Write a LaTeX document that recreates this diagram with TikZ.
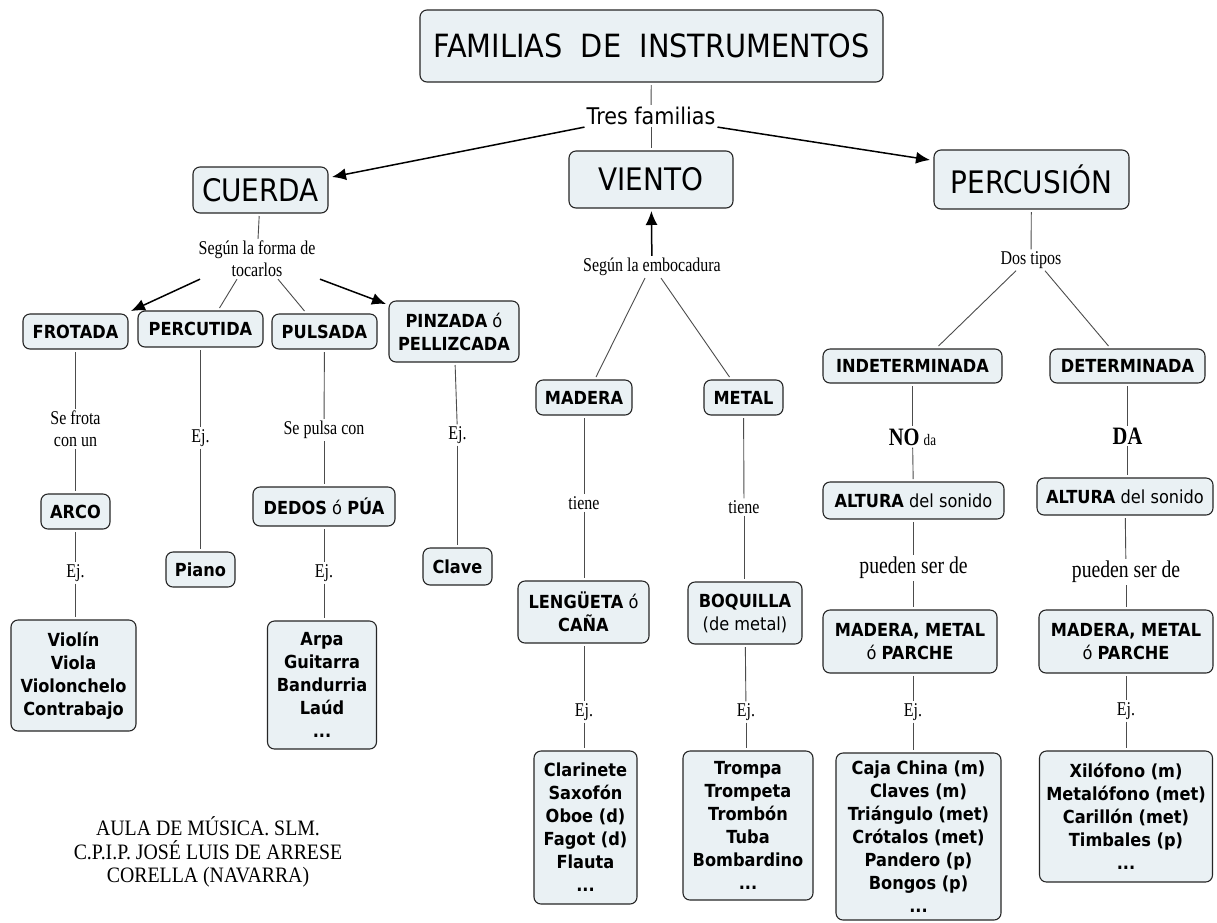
\documentclass[tikz,border=0pt]{standalone}
\usepackage{fontspec}
\usetikzlibrary{arrows.meta,calc}
\newfontfamily\nodefont{DejaVu Sans}[FakeStretch=0.9]
\newfontfamily\lblfont{Liberation Serif}[FakeStretch=0.82]
\newfontfamily\footfont{Liberation Serif}[FakeStretch=0.9]
\definecolor{boxfill}{HTML}{EAF1F4}
\tikzset{
  box/.style={draw=black!85, line width=1.1pt, rounded corners=7pt, fill=boxfill,
    inner sep=0pt, outer sep=3pt, align=center,
    font=\nodefont\fontsize{18}{23}\selectfont},
  bigbox/.style={box, font=\nodefont\fontsize{31}{36}\selectfont},
  lbl/.style={inner sep=2pt, align=center, font=\lblfont\fontsize{19.5}{22}\selectfont},
  conn/.style={draw=black!70, line width=0.9pt},
  arr/.style={draw=black, line width=1.5pt, -{Latex[length=14pt,width=12pt]}}
}
\begin{document}
\begin{tikzpicture}[x=1pt,y=-1pt]
\useasboundingbox[fill=white] (0,0) rectangle (1217,922);

% top level
\node[box, minimum width=463, minimum height=72, font=\nodefont\fontsize{32}{36}\selectfont] (title) at (651.5,46) {FAMILIAS\ \ DE\ \ INSTRUMENTOS};
\node[inner sep=2pt, font=\nodefont\fontsize{23}{26}\selectfont] (tres) at (651,116) {Tres familias};
\node[bigbox, minimum width=135, minimum height=46] (cuerda) at (260.5,190) {CUERDA};
\node[bigbox, minimum width=164, minimum height=57] (viento) at (651,179.5) {VIENTO};
\node[bigbox, minimum width=195, minimum height=59] (perc) at (1031.5,179.5) {PERCUSIÓN};

% CUERDA branch
\node[lbl] (seg) at (257,259) {Según la forma de\\tocarlos};
\node[box, minimum width=105, minimum height=35] (frotada) at (75.5,331.5) {\bfseries FROTADA};
\node[box, minimum width=125, minimum height=36] (percutida) at (200.5,329) {\bfseries PERCUTIDA};
\node[box, minimum width=105, minimum height=35] (pulsada) at (324.5,331.5) {\bfseries PULSADA};
\node[box, minimum width=130, minimum height=61] (pinzada) at (454,331.5) {\textbf{PINZADA} ó\\\textbf{PELLIZCADA}};

\node[lbl] (frotalbl) at (75.5,429) {Se frota\\con un};
\node[box, minimum width=69, minimum height=35] (arco) at (75.5,511.5) {\bfseries ARCO};
\node[lbl] (ej1) at (75.5,573) {Ej.};
\node[box, minimum width=125, minimum height=111] (violin) at (73.5,675.5) {\bfseries Violín\\\bfseries Viola\\\bfseries Violonchelo\\\bfseries Contrabajo};

\node[lbl] (ej2) at (200.5,438) {Ej.};
\node[box, minimum width=69, minimum height=35] (piano) at (200.5,569.5) {\bfseries Piano};

\node[lbl] (pulsalbl) at (324,430) {Se pulsa con};
\node[box, minimum width=142, minimum height=39] (dedos) at (324,506.5) {\textbf{DEDOS} ó \textbf{PÚA}};
\node[lbl] (ej3) at (324,573) {Ej.};
\node[box, minimum width=109, minimum height=128] (arpa) at (322,685) {\bfseries Arpa\\\bfseries Guitarra\\\bfseries Bandurria\\\bfseries Laúd\\\bfseries ...};

\node[lbl] (ej4) at (457.5,435) {Ej.};
\node[box, minimum width=69, minimum height=37] (clave) at (457.5,566.5) {\bfseries Clave};

% VIENTO branch
\node[lbl] (emb) at (652,267) {Según la embocadura};
\node[box, minimum width=96, minimum height=35] (madera) at (584,397.5) {\bfseries MADERA};
\node[box, minimum width=79, minimum height=35] (metal) at (743.5,397.5) {\bfseries METAL};
\node[lbl] (tiene1) at (584,503) {tiene};
\node[lbl] (tiene2) at (744,507) {tiene};
\node[box, minimum width=131, minimum height=62] (lengueta) at (583.5,612) {\textbf{LENGÜETA} ó\\\textbf{CAÑA}};
\node[box, minimum width=114, minimum height=62] (boquilla) at (745,613) {\textbf{BOQUILLA}\\(de metal)};
\node[lbl] (ej5) at (584,712) {Ej.};
\node[lbl] (ej6) at (746,712) {Ej.};
\node[box, minimum width=103, minimum height=153] (clarinete) at (585.5,827.5) {\bfseries Clarinete\\\bfseries Saxofón\\\bfseries Oboe (d)\\\bfseries Fagot (d)\\\bfseries Flauta\\\bfseries ...};
\node[box, minimum width=130, minimum height=149] (trompa) at (748,825.5) {\bfseries Trompa\\\bfseries Trompeta\\\bfseries Trombón\\\bfseries Tuba\\\bfseries Bombardino\\\bfseries ...};

% PERCUSION branch
\node[lbl] (dos) at (1031,260) {Dos tipos};
\node[box, minimum width=179, minimum height=34] (indet) at (912.5,366) {\bfseries INDETERMINADA};
\node[box, minimum width=155, minimum height=34] (det) at (1127.5,366) {\bfseries DETERMINADA};
\node[lbl] (noda) at (912.5,437) {{\bfseries\fontsize{25}{28}\selectfont NO} {\fontsize{16}{18}\selectfont da}};
\node[lbl, font=\lblfont\bfseries\fontsize{25}{28}\selectfont] (da) at (1127.5,436) {DA};
\node[box, minimum width=181, minimum height=37] (alt1) at (913.5,500.5) {\textbf{ALTURA} del sonido};
\node[box, minimum width=176, minimum height=37] (alt2) at (1125,496.5) {\textbf{ALTURA} del sonido};
\node[lbl, font=\lblfont\fontsize{24}{27}\selectfont] (pueden1) at (913.5,568) {pueden ser de};
\node[lbl, font=\lblfont\fontsize{24}{27}\selectfont] (pueden2) at (1126,572) {pueden ser de};
\node[box, minimum width=174, minimum height=63] (mmp1) at (910,641.5) {\bfseries MADERA, METAL\\ó \textbf{PARCHE}};
\node[box, minimum width=174, minimum height=63] (mmp2) at (1126,641.5) {\bfseries MADERA, METAL\\ó \textbf{PARCHE}};
\node[lbl] (ej7) at (913,712) {Ej.};
\node[lbl] (ej8) at (1126,711) {Ej.};
\node[box, minimum width=165, minimum height=167] (caja) at (918.5,836.5) {\bfseries Caja China (m)\\\bfseries Claves (m)\\\bfseries Triángulo (met)\\\bfseries Crótalos (met)\\\bfseries Pandero (p)\\\bfseries Bongos (p)\\\bfseries ...};
\node[box, minimum width=173, minimum height=131] (xilo) at (1126,816.5) {\bfseries Xilófono (m)\\\bfseries Metalófono (met)\\\bfseries Carillón (met)\\\bfseries Timbales (p)\\\bfseries ...};

% footer
\node[align=center, inner sep=0pt, font=\footfont\fontsize{22}{23.5}\selectfont] (footer) at (208,852) {AULA\ DE\ MÚSICA. SLM.\\C.P.I.P. JOSÉ\ LUIS\ DE\ ARRESE\\CORELLA (NAVARRA)};

% connectors top
\draw[conn] (title) -- (tres);
\draw[conn] (tres) -- (viento);
\draw[arr] (tres.south west) -- ($(cuerda.north east)+(1,13)$);
\draw[arr] (tres.south east) -- ($(perc.north west)+(-1,13)$);

% cuerda
\draw[conn] (cuerda) -- (seg);
\draw[arr] ($(seg.south)+(-57,0)$) -- (frotada.north east);
\draw[conn] ($(seg.south)+(-20,0)$) -- ($(percutida.north)+(19,0)$);
\draw[conn] ($(seg.south)+(21,0)$) -- ($(pulsada.north)+(-20,0)$);
\draw[arr] ($(seg.south)+(63,0)$) -- ($(pinzada.north west)+(0,6)$);
\draw[conn] (frotada) -- (frotalbl);
\draw[conn] (frotalbl) -- (arco);
\draw[conn] (arco) -- (ej1);
\draw[conn] (ej1) -- (violin.north -| ej1);
\draw[conn] (percutida) -- (ej2);
\draw[conn] (ej2) -- (piano);
\draw[conn] (pulsada) -- (pulsalbl);
\draw[conn] (pulsalbl) -- (dedos);
\draw[conn] (dedos) -- (ej3);
\draw[conn] (ej3) -- (arpa.north -| ej3);
\draw[conn] (pinzada) -- (ej4);
\draw[conn] (ej4) -- (clave);

% viento
\draw[arr] (emb) -- (viento);
\draw[conn] ($(emb.south)+(-7,0)$) -- ($(madera.north)+(12,0)$);
\draw[conn] ($(emb.south)+(9,0)$) -- ($(metal.north)+(-14,0)$);
\draw[conn] (madera) -- (tiene1);
\draw[conn] (tiene1) -- (lengueta.north -| tiene1);
\draw[conn] (lengueta.south -| ej5) -- (ej5);
\draw[conn] (ej5) -- (clarinete.north -| ej5);
\draw[conn] (metal) -- (tiene2);
\draw[conn] (tiene2) -- (boquilla.north -| tiene2);
\draw[conn] (boquilla) -- (ej6);
\draw[conn] (ej6) -- (trompa.north -| ej6);

% percusion
\draw[conn] (perc) -- (dos);
\draw[conn] ($(dos.south)+(-15,0)$) -- ($(indet.north)+(26,0)$);
\draw[conn] ($(dos.south)+(14,0)$) -- ($(det.north)+(-19,0)$);
\draw[conn] (indet) -- (noda);
\draw[conn] (noda) -- (alt1);
\draw[conn] (alt1) -- (pueden1);
\draw[conn] (pueden1) -- (mmp1.north -| pueden1);
\draw[conn] (mmp1.south -| ej7) -- (ej7);
\draw[conn] (ej7) -- (caja.north -| ej7);
\draw[conn] (det) -- (da);
\draw[conn] (da) -- (alt2.north -| da);
\draw[conn] (alt2) -- (pueden2);
\draw[conn] (pueden2) -- (mmp2);
\draw[conn] (mmp2) -- (ej8);
\draw[conn] (ej8) -- (xilo);
\end{tikzpicture}
\end{document}
